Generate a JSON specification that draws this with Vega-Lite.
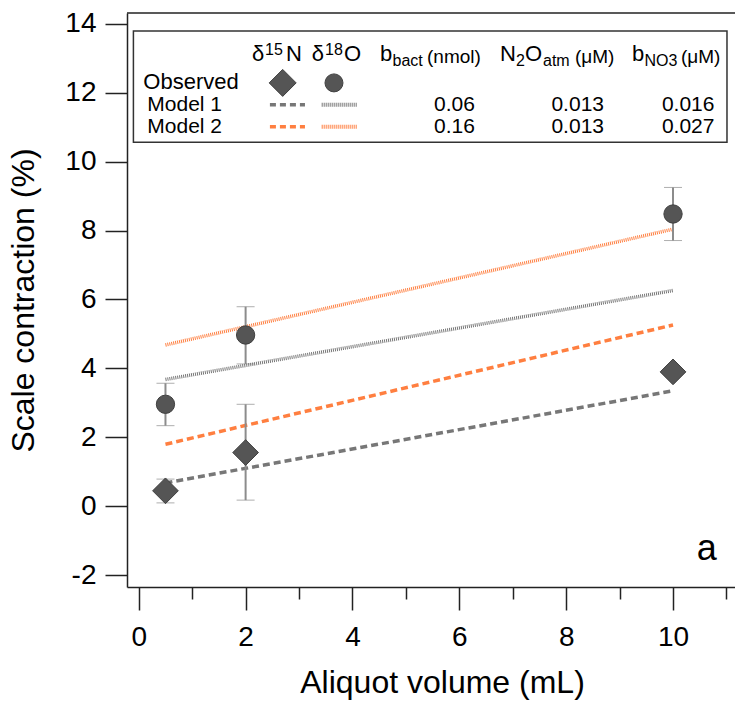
{
  "$schema": "https://vega.github.io/schema/vega-lite/v6.json",
  "autosize": {"type": "none"},
  "width": 608,
  "height": 574,
  "padding": {"left": 127, "top": 13, "right": 0, "bottom": 117},
  "datasets": {
    "observed": [
      {"isotope": "δ15N", "volume": 0.5, "value": 0.45, "lo": 0.10, "hi": 0.79},
      {"isotope": "δ15N", "volume": 2, "value": 1.56, "lo": 0.18, "hi": 2.96},
      {"isotope": "δ15N", "volume": 10, "value": 3.90, "lo": 3.80, "hi": 4.00},
      {"isotope": "δ18O", "volume": 0.5, "value": 2.96, "lo": 2.34, "hi": 3.57},
      {"isotope": "δ18O", "volume": 2, "value": 4.97, "lo": 4.13, "hi": 5.79},
      {"isotope": "δ18O", "volume": 10, "value": 8.48, "lo": 7.71, "hi": 9.25}
    ],
    "model": [
      {"model": "Model 1", "isotope": "δ15N", "volume": 0.5, "value": 0.68},
      {"model": "Model 1", "isotope": "δ15N", "volume": 10, "value": 3.35},
      {"model": "Model 2", "isotope": "δ15N", "volume": 0.5, "value": 1.80},
      {"model": "Model 2", "isotope": "δ15N", "volume": 10, "value": 5.26},
      {"model": "Model 1", "isotope": "δ18O", "volume": 0.5, "value": 3.68},
      {"model": "Model 1", "isotope": "δ18O", "volume": 10, "value": 6.26},
      {"model": "Model 2", "isotope": "δ18O", "volume": 0.5, "value": 4.68},
      {"model": "Model 2", "isotope": "δ18O", "volume": 10, "value": 8.04}
    ],
    "params": [
      {"model": "Model 1", "bbact": 0.06, "n2o": 0.013, "bno3": 0.016},
      {"model": "Model 2", "bbact": 0.16, "n2o": 0.013, "bno3": 0.027}
    ],
    "hdr": [{"row": "header"}],
    "obsrow": [{"row": "Observed"}],
    "one": [{}]
  },
  "config": {
    "view": {"stroke": null},
    "font": "Liberation Sans",
    "text": {"font": "Liberation Sans", "color": "black"},
    "axis": {
      "grid": false,
      "domainColor": "#222",
      "domainWidth": 1.5,
      "tickColor": "#222",
      "tickWidth": 1.5,
      "labelColor": "black",
      "labelFont": "Liberation Sans",
      "labelFontSize": 28,
      "titleFont": "Liberation Sans",
      "titleFontSize": 32,
      "titleFontWeight": "normal",
      "titleColor": "black"
    }
  },
  "resolve": {"scale": {"y": "independent"}},
  "layer": [
    {
      "layer": [
        {
          "data": {"name": "model"},
          "mark": {"type": "line", "strokeWidth": 3.5},
          "encoding": {
            "x": {
              "field": "volume", "type": "quantitative",
              "title": "Aliquot volume (mL)",
              "scale": {"domain": [-0.22, 11.16], "nice": false, "zero": false},
              "axis": {
                "values": [0, 1, 2, 3, 4, 5, 6, 7, 8, 9, 10, 11],
                "labelExpr": "datum.value % 2 === 0 ? datum.label : ''",
                "tickSize": {"condition": {"test": "datum.value % 2 !== 0", "value": 12}, "value": 23},
                "labelPadding": 13,
                "labelOverlap": false,
                "labelFlush": false,
                "titlePadding": 16,
                "titleX": 315
              }
            },
            "y": {
              "field": "value", "type": "quantitative",
              "title": "Scale contraction (%)",
              "scale": {"domain": [-2.34, 14.31], "nice": false, "zero": false},
              "axis": {
                "values": [-2, 0, 2, 4, 6, 8, 10, 12, 14],
                "labelExpr": "datum.value < 0 ? '-' + abs(datum.value) : datum.label",
                "tickSize": 22,
                "labelPadding": 9,
                "labelOverlap": false,
                "labelFlush": false,
                "titlePadding": 24
              }
            },
            "color": {
              "field": "model", "type": "nominal",
              "scale": {"domain": ["Model 1", "Model 2"], "range": ["#777777", "#ff7f40"]},
              "legend": null
            },
            "strokeDash": {
              "field": "isotope", "type": "nominal",
              "scale": {"domain": ["δ15N", "δ18O"], "range": [[7, 4], [1, 1]]},
              "legend": null
            }
          }
        },
        {
          "data": {"name": "observed"},
          "mark": {
            "type": "errorbar",
            "ticks": {"size": 18, "color": "#8c8c8c", "strokeWidth": 2},
            "rule": {"color": "#8c8c8c", "strokeWidth": 2}
          },
          "encoding": {
            "x": {"field": "volume", "type": "quantitative", "title": "Aliquot volume (mL)"},
            "y": {"field": "lo", "type": "quantitative", "title": "Scale contraction (%)"},
            "y2": {"field": "hi"}
          }
        },
        {
          "data": {"name": "observed"},
          "mark": {"type": "point", "filled": true, "fill": "#555555", "stroke": "#404040", "strokeWidth": 1, "opacity": 1},
          "encoding": {
            "x": {"field": "volume", "type": "quantitative", "title": "Aliquot volume (mL)"},
            "y": {"field": "value", "type": "quantitative", "title": "Scale contraction (%)"},
            "shape": {
              "field": "isotope", "type": "nominal",
              "scale": {"domain": ["δ15N", "δ18O"], "range": ["diamond", "circle"]},
              "legend": null
            },
            "size": {
              "field": "isotope", "type": "nominal",
              "scale": {"domain": ["δ15N", "δ18O"], "range": [660, 335]},
              "legend": null
            }
          }
        },
        {
          "data": {"name": "one"},
          "mark": {"type": "rule", "color": "#222", "strokeWidth": 1.5},
          "encoding": {"y": {"datum": 14.31}}
        },
        {
          "data": {"name": "one"},
          "mark": {"type": "rect", "fill": "white", "stroke": "#333", "strokeWidth": 1.5},
          "encoding": {
            "x": {"datum": -0.10},
            "x2": {"datum": 11.01},
            "y": {"datum": 13.79},
            "y2": {"datum": 10.56}
          }
        },
        {
          "data": {"name": "one"},
          "mark": {"type": "text", "text": "a", "fontSize": 36, "align": "center", "baseline": "alphabetic"},
          "encoding": {
            "x": {"datum": 10.63},
            "y": {"datum": -1.56}
          }
        }
      ]
    },
    {
      "layer": [
        {
          "data": {"name": "obsrow"},
          "mark": {"type": "text", "align": "left", "baseline": "middle", "fontSize": 22, "dy": -1},
          "encoding": {
            "x": {"datum": 0.085},
            "y": {
              "field": "row", "type": "nominal",
              "scale": {"type": "point", "domain": ["header", "Observed", "Model 1", "Model 2"], "range": [48, 113.7], "padding": 0, "paddingOuter": 0, "round": false},
              "axis": null
            },
            "text": {"field": "row"}
          }
        },
        {
          "data": {"name": "params"},
          "mark": {"type": "text", "align": "left", "baseline": "middle", "fontSize": 21},
          "encoding": {
            "x": {"datum": 0.16},
            "y": {"field": "model", "type": "nominal", "axis": null},
            "text": {"field": "model"}
          }
        },
        {
          "data": {"name": "params"},
          "mark": {"type": "text", "align": "right", "baseline": "middle", "fontSize": 21},
          "encoding": {
            "x": {"datum": 6.293},
            "y": {"field": "model", "type": "nominal", "axis": null},
            "text": {"field": "bbact", "type": "quantitative", "format": ".2f"}
          }
        },
        {
          "data": {"name": "params"},
          "mark": {"type": "text", "align": "right", "baseline": "middle", "fontSize": 21},
          "encoding": {
            "x": {"datum": 8.708},
            "y": {"field": "model", "type": "nominal", "axis": null},
            "text": {"field": "n2o", "type": "quantitative", "format": ".3f"}
          }
        },
        {
          "data": {"name": "params"},
          "mark": {"type": "text", "align": "right", "baseline": "middle", "fontSize": 21},
          "encoding": {
            "x": {"datum": 10.776},
            "y": {"field": "model", "type": "nominal", "axis": null},
            "text": {"field": "bno3", "type": "quantitative", "format": ".3f"}
          }
        },
        {
          "data": {"name": "obsrow"},
          "mark": {"type": "point", "shape": "diamond", "size": 729, "filled": true, "fill": "#555555", "stroke": "#404040", "strokeWidth": 1, "opacity": 1},
          "encoding": {
            "x": {"datum": 2.694},
            "y": {"field": "row", "type": "nominal", "axis": null}
          }
        },
        {
          "data": {"name": "obsrow"},
          "mark": {"type": "point", "shape": "circle", "size": 324, "filled": true, "fill": "#555555", "stroke": "#404040", "strokeWidth": 1, "opacity": 1},
          "encoding": {
            "x": {"datum": 3.654},
            "y": {"field": "row", "type": "nominal", "axis": null}
          }
        },
        {
          "data": {"name": "params"},
          "mark": {"type": "rule", "strokeWidth": 3.5, "strokeDash": [6, 4]},
          "encoding": {
            "x": {"datum": 2.455},
            "x2": {"datum": 3.111},
            "y": {"field": "model", "type": "nominal", "axis": null},
            "color": {"field": "model", "type": "nominal", "legend": null}
          }
        },
        {
          "data": {"name": "params"},
          "mark": {"type": "rule", "strokeWidth": 4, "strokeDash": [1, 1]},
          "encoding": {
            "x": {"datum": 3.424},
            "x2": {"datum": 4.079},
            "y": {"field": "model", "type": "nominal", "axis": null},
            "color": {"field": "model", "type": "nominal", "legend": null}
          }
        },
        {"data": {"name": "hdr"}, "mark": {"type": "text", "text": "δ", "fontSize": 22, "align": "left", "baseline": "alphabetic"},
         "encoding": {"x": {"datum": 2.120}, "y": {"field": "row", "type": "nominal", "axis": null}}},
        {"data": {"name": "hdr"}, "mark": {"type": "text", "text": "15", "fontSize": 16, "align": "left", "baseline": "alphabetic", "dy": -6},
         "encoding": {"x": {"datum": 2.363}, "y": {"field": "row", "type": "nominal", "axis": null}}},
        {"data": {"name": "hdr"}, "mark": {"type": "text", "text": "N", "fontSize": 22, "align": "left", "baseline": "alphabetic"},
         "encoding": {"x": {"datum": 2.756}, "y": {"field": "row", "type": "nominal", "axis": null}}},
        {"data": {"name": "hdr"}, "mark": {"type": "text", "text": "δ", "fontSize": 22, "align": "left", "baseline": "alphabetic"},
         "encoding": {"x": {"datum": 3.237}, "y": {"field": "row", "type": "nominal", "axis": null}}},
        {"data": {"name": "hdr"}, "mark": {"type": "text", "text": "18", "fontSize": 16, "align": "left", "baseline": "alphabetic", "dy": -6},
         "encoding": {"x": {"datum": 3.486}, "y": {"field": "row", "type": "nominal", "axis": null}}},
        {"data": {"name": "hdr"}, "mark": {"type": "text", "text": "O", "fontSize": 22, "align": "left", "baseline": "alphabetic"},
         "encoding": {"x": {"datum": 3.842}, "y": {"field": "row", "type": "nominal", "axis": null}}},
        {"data": {"name": "hdr"}, "mark": {"type": "text", "text": "b", "fontSize": 22, "align": "left", "baseline": "alphabetic"},
         "encoding": {"x": {"datum": 4.515}, "y": {"field": "row", "type": "nominal", "axis": null}}},
        {"data": {"name": "hdr"}, "mark": {"type": "text", "text": "bact", "fontSize": 16, "align": "left", "baseline": "alphabetic", "dy": 5},
         "encoding": {"x": {"datum": 4.749}, "y": {"field": "row", "type": "nominal", "axis": null}}},
        {"data": {"name": "hdr"}, "mark": {"type": "text", "text": "(nmol)", "fontSize": 19, "align": "left", "baseline": "alphabetic", "dy": 2},
         "encoding": {"x": {"datum": 5.395}, "y": {"field": "row", "type": "nominal", "axis": null}}},
        {"data": {"name": "hdr"}, "mark": {"type": "text", "text": "N", "fontSize": 22, "align": "left", "baseline": "alphabetic"},
         "encoding": {"x": {"datum": 6.761}, "y": {"field": "row", "type": "nominal", "axis": null}}},
        {"data": {"name": "hdr"}, "mark": {"type": "text", "text": "2", "fontSize": 16, "align": "left", "baseline": "alphabetic", "dy": 5},
         "encoding": {"x": {"datum": 7.061}, "y": {"field": "row", "type": "nominal", "axis": null}}},
        {"data": {"name": "hdr"}, "mark": {"type": "text", "text": "O", "fontSize": 22, "align": "left", "baseline": "alphabetic"},
         "encoding": {"x": {"datum": 7.229}, "y": {"field": "row", "type": "nominal", "axis": null}}},
        {"data": {"name": "hdr"}, "mark": {"type": "text", "text": "atm", "fontSize": 16, "align": "left", "baseline": "alphabetic", "dy": 5},
         "encoding": {"x": {"datum": 7.566}, "y": {"field": "row", "type": "nominal", "axis": null}}},
        {"data": {"name": "hdr"}, "mark": {"type": "text", "text": "(μM)", "fontSize": 19, "align": "left", "baseline": "alphabetic", "dy": 2},
         "encoding": {"x": {"datum": 8.165}, "y": {"field": "row", "type": "nominal", "axis": null}}},
        {"data": {"name": "hdr"}, "mark": {"type": "text", "text": "b", "fontSize": 22, "align": "left", "baseline": "alphabetic"},
         "encoding": {"x": {"datum": 9.232}, "y": {"field": "row", "type": "nominal", "axis": null}}},
        {"data": {"name": "hdr"}, "mark": {"type": "text", "text": "NO3", "fontSize": 16, "align": "left", "baseline": "alphabetic", "dy": 5},
         "encoding": {"x": {"datum": 9.466}, "y": {"field": "row", "type": "nominal", "axis": null}}},
        {"data": {"name": "hdr"}, "mark": {"type": "text", "text": "(μM)", "fontSize": 19, "align": "left", "baseline": "alphabetic", "dy": 2},
         "encoding": {"x": {"datum": 10.149}, "y": {"field": "row", "type": "nominal", "axis": null}}}
      ]
    }
  ]
}
